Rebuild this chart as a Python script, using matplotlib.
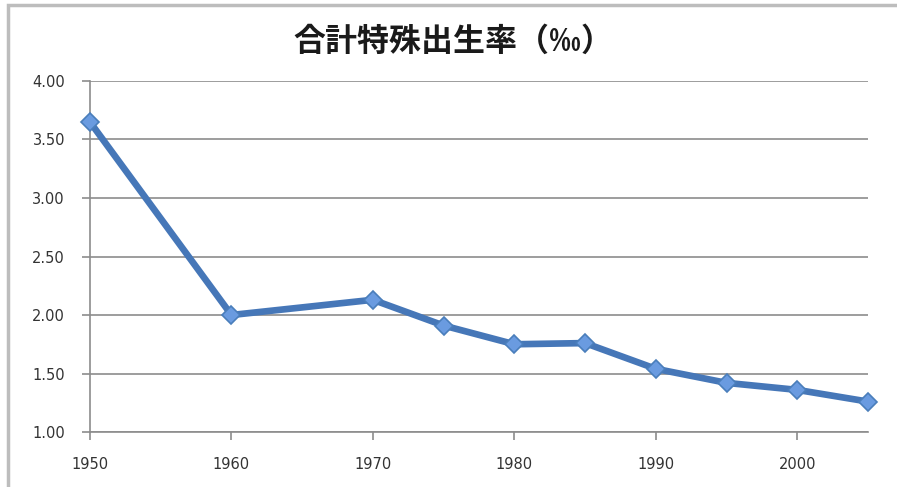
import matplotlib
matplotlib.use("Agg")
import matplotlib.pyplot as plt
from matplotlib.patches import Rectangle

# total fertility rate by year
years = [1950, 1960, 1970, 1975, 1980, 1985, 1990, 1995, 2000, 2005]
tfr = [3.65, 2.00, 2.13, 1.91, 1.75, 1.76, 1.54, 1.42, 1.36, 1.26]
xticks = [1950, 1960, 1970, 1980, 1990, 2000]
yticks = [1.00, 1.50, 2.00, 2.50, 3.00, 3.50, 4.00]
title = "合計特殊出生率（‰）"

plt.rcParams["font.family"] = ["DejaVu Sans"]

fig = plt.figure(figsize=(8.97, 4.87), dpi=100)
ax = fig.add_axes([0.1003, 0.1129, 0.8674, 0.7208])

# outer chart frame
fig.patches.append(Rectangle((8 / 897, -0.1), 1.1, 1.1 - 5 / 487,
                             transform=fig.transFigure, fill=False,
                             edgecolor="#bdbdbd", linewidth=2.5, zorder=0))

ax.plot(years, tfr, color="#4677b8", linewidth=4.8, zorder=3,
        marker="D", markersize=9, markerfacecolor="#6a9be0",
        markeredgecolor="#4a7ebb", markeredgewidth=1.2, clip_on=False)

ax.set_xlim(1950, 2005)
ax.set_ylim(1.0, 4.0)
ax.set_xticks(xticks)
ax.set_yticks(yticks)
ax.set_yticklabels([f"{v:.2f}" for v in yticks])
ax.yaxis.grid(True, color="#8c8c8c", linewidth=1.2)
ax.set_axisbelow(True)

for side in ["top", "right"]:
    ax.spines[side].set_visible(False)
for side in ["left", "bottom"]:
    ax.spines[side].set_color("#8c8c8c")
    ax.spines[side].set_linewidth(1.2)

ax.tick_params(axis="y", length=6, width=1.2, color="#8c8c8c", pad=12,
               labelsize=10.5, labelcolor="#333333")
ax.tick_params(axis="x", length=6, width=1.2, color="#8c8c8c", pad=12,
               labelsize=10.5, labelcolor="#333333")

fig.text(0.505, 0.915, title, ha="center", va="center", fontsize=23,
         fontweight="bold", family=["Noto Sans CJK JP", "DejaVu Sans"],
         color="#1a1a1a")

fig.savefig("out.png", dpi=100)
